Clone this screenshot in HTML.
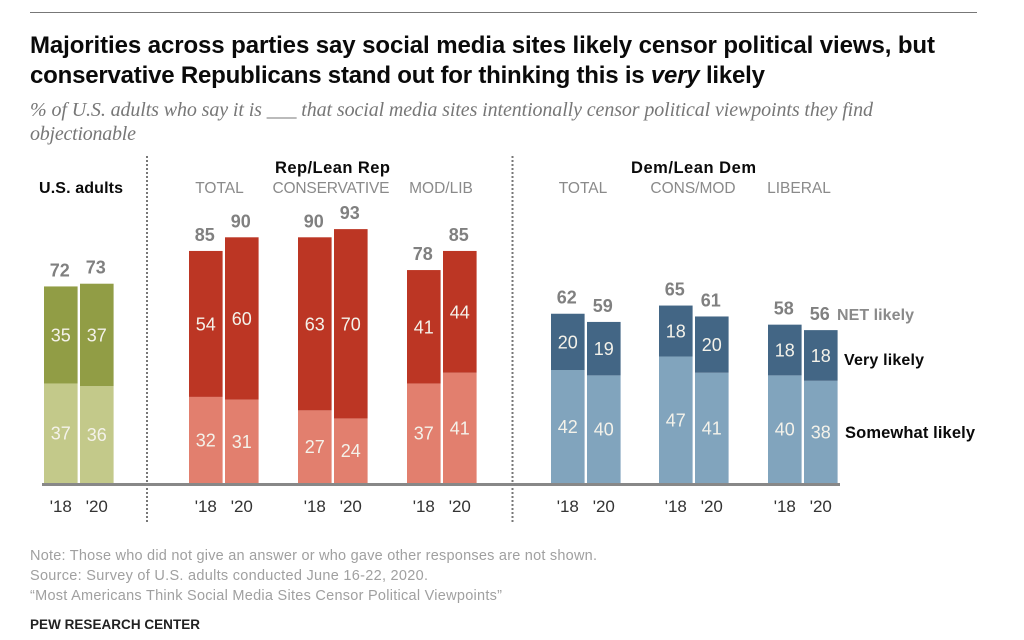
<!DOCTYPE html>
<html><head><meta charset="utf-8"><title>Pew chart</title>
<style>
html,body{margin:0;padding:0;background:#fff;width:1024px;height:640px;overflow:hidden}
svg{display:block;font-family:"Liberation Sans",sans-serif}
</style></head><body>
<svg id="chart" width="1024" height="640" viewBox="0 0 1024 640" xmlns="http://www.w3.org/2000/svg">
<rect width="1024" height="640" fill="#fff"/>
<line x1="30" x2="977" y1="12.5" y2="12.5" stroke="#777" stroke-width="1"/>
<text x="30" y="53" font-size="24" font-weight="700" fill="#0a0a0a" textLength="905">Majorities across parties say social media sites likely censor political views, but</text>
<text x="30" y="83" font-size="24" font-weight="700" fill="#0a0a0a" textLength="735">conservative Republicans stand out for thinking this is <tspan font-style="italic">very</tspan> likely</text>
<text x="30" y="116" font-family="Liberation Serif, serif" font-style="italic" font-size="20" fill="#777" textLength="843">% of U.S. adults who say it is ___ that social media sites intentionally censor political viewpoints they find</text>
<text x="30" y="140" font-family="Liberation Serif, serif" font-style="italic" font-size="20" fill="#777" textLength="106">objectionable</text>
<line x1="147" x2="147" y1="156" y2="524" stroke="#777" stroke-width="2" stroke-dasharray="2 2"/>
<line x1="512.5" x2="512.5" y1="156" y2="524" stroke="#777" stroke-width="2" stroke-dasharray="2 2"/>
<text x="39" y="193" font-size="16" font-weight="700" fill="#0a0a0a" textLength="84">U.S. adults</text>
<text x="275" y="173" font-size="16.5" font-weight="700" fill="#0a0a0a" textLength="115">Rep/Lean Rep</text>
<text x="631" y="173" font-size="16.5" font-weight="700" fill="#0a0a0a" textLength="125">Dem/Lean Dem</text>
<text x="219.5" y="193" font-size="15.5" text-anchor="middle" fill="#8a8a8a">TOTAL</text>
<text x="331" y="193" font-size="15.5" text-anchor="middle" fill="#8a8a8a" textLength="117">CONSERVATIVE</text>
<text x="441" y="193" font-size="15.5" text-anchor="middle" fill="#8a8a8a">MOD/LIB</text>
<text x="583" y="193" font-size="15.5" text-anchor="middle" fill="#8a8a8a">TOTAL</text>
<text x="693" y="193" font-size="15.5" text-anchor="middle" fill="#8a8a8a">CONS/MOD</text>
<text x="799" y="193" font-size="15.5" text-anchor="middle" fill="#8a8a8a">LIBERAL</text>
<text x="837" y="320" font-size="16" font-weight="700" fill="#8a8a8a" textLength="77">NET likely</text>
<text x="844" y="365" font-size="16" font-weight="700" fill="#0a0a0a" textLength="80">Very likely</text>
<text x="845" y="438" font-size="16.5" font-weight="700" fill="#0a0a0a" textLength="130">Somewhat likely</text>
<text x="30" y="560" font-size="14.5" fill="#a0a0a0" textLength="567">Note: Those who did not give an answer or who gave other responses are not shown.</text>
<text x="30" y="580" font-size="14.5" fill="#a0a0a0" textLength="398">Source: Survey of U.S. adults conducted June 16-22, 2020.</text>
<text x="30" y="600" font-size="14.5" fill="#a0a0a0" textLength="472">“Most Americans Think Social Media Sites Censor Political Viewpoints”</text>
<text x="30" y="629" font-size="13.5" font-weight="700" fill="#222" textLength="170">PEW RESEARCH CENTER</text>
<g id="marks"></g>
<line x1="42" x2="840" y1="484.5" y2="484.5" stroke="#888" stroke-width="3"/>
</svg>
<script>
const years = ["'18", "'20"];
const somewhat = [[37,36],[32,31],[27,24],[37,41],[42,40],[47,41],[40,38]];
const very = [[35,37],[54,60],[63,70],[41,44],[20,19],[18,20],[18,18]];
const net = [[72,73],[85,90],[90,93],[78,85],[62,59],[65,61],[58,56]];
const groupParty = ["us","rep","rep","rep","dem","dem","dem"];

const NS = "http://www.w3.org/2000/svg";
const root = document.getElementById("marks");
const BASE = 483;
const NET_UNIT = 2.73;
const SOMEWHAT_UNIT = 2.69;
const BAR_W = 33.6;
const GROUP_X = [44, 189, 298, 407, 551, 659, 768];
const STEP = 36;
const DARK = {us:"#919d45", rep:"#bc3624", dem:"#436685"};
const LIGHT = {us:"#c3c98a", rep:"#e27f6e", dem:"#81a4bd"};

function yNet(v){ return BASE - v * NET_UNIT; }
function ySomewhat(v){ return BASE - v * SOMEWHAT_UNIT; }
function xOf(g, b){ return GROUP_X[g] + b * STEP; }
function makeRect(x, y, h, fill){
  const r = document.createElementNS(NS, "rect");
  r.setAttribute("x", x);
  r.setAttribute("y", y);
  r.setAttribute("width", BAR_W);
  r.setAttribute("height", h);
  r.setAttribute("fill", fill);
  root.appendChild(r);
  return r;
}
function makeText(x, y, str, size, fill, weight){
  const t = document.createElementNS(NS, "text");
  t.setAttribute("x", x);
  t.setAttribute("y", y);
  t.setAttribute("text-anchor", "middle");
  t.setAttribute("font-size", size);
  t.setAttribute("fill", fill);
  t.setAttribute("font-weight", weight);
  t.textContent = str;
  root.appendChild(t);
  return t;
}
groupParty.forEach(function(party, g){
  years.forEach(function(yr, b){
    const x = xOf(g, b);
    const cx = x + BAR_W / 2;
    const s = somewhat[g][b], v = very[g][b], n = net[g][b];
    const sTop = ySomewhat(s);
    const nTop = yNet(n);
    const lower = makeRect(x, sTop, BASE - sTop, LIGHT[party]);
    
    
    const upper = makeRect(x, nTop, sTop - nTop, DARK[party]);
    
    
    const sl = makeText(cx, (sTop + BASE) / 2 + 6.5, s, 18, "#f4f2ea", 400);
    
    
    const vl = makeText(cx, (nTop + sTop) / 2 + 6.5, v, 18, "#f4f2ea", 400);
    
    
    const nl = makeText(cx - 1, nTop - 10, n, 18, "#808080", 700);
    
    
    const yl = makeText(cx, 512, yr, 17, "#333", 400);
    
    
  });
});
</script>
</body></html>
